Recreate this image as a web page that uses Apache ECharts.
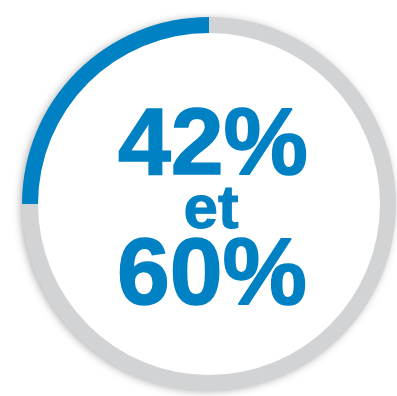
<!DOCTYPE html>
<html>
<head>
<meta charset="utf-8">
<script src="https://cdn.jsdelivr.net/npm/echarts@6/dist/echarts.min.js"></script>
<style>
  html, body { margin: 0; padding: 0; background: #fff; }
  #chart { width: 397px; height: 396px; }
</style>
</head>
<body>
<div id="chart"></div>
<script>
// share shown in blue vs. the rest of the ring
const ringNames = ['part', 'reste'];
const ringValues = [25, 75];
const ringColors = ['#0081C4', '#D1D3D4'];
// centre text, one line each
const centerLines = ['42%', 'et', '60%'];

const chart = echarts.init(document.getElementById('chart'));

const blue = '#0081C4';
const textFont = '"Liberation Sans", Arial, sans-serif';

chart.setOption({
  animation: false,
  series: [
    {
      // white disc underneath, only there to cast the soft outer shadow
      type: 'pie',
      silent: true,
      z: 1,
      center: [209, 204],
      radius: [0, 186],
      label: { show: false },
      data: [{ value: 1, itemStyle: { color: '#fff' } }],
      itemStyle: {
        shadowBlur: 8,
        shadowColor: 'rgba(0,0,0,0.35)',
        shadowOffsetX: -2,
        shadowOffsetY: 1
      }
    },
    {
      type: 'pie',
      silent: true,
      z: 2,
      center: [209, 204],
      radius: [171, 187],
      startAngle: 90,
      clockwise: false,
      label: { show: false },
      labelLine: { show: false },
      data: ringNames.map((n, i) => ({
        name: n,
        value: ringValues[i],
        itemStyle: { color: ringColors[i] }
      }))
    }
  ],
  graphic: [
    {
      type: 'text', x: 213, y: 148, z: 10,
      style: { text: centerLines[0], fill: blue, font: 'bold 95px ' + textFont, align: 'center', verticalAlign: 'middle', stroke: blue, lineWidth: 1.5 }
    },
    {
      type: 'text', x: 211, y: 211, z: 10,
      style: { text: centerLines[1], fill: blue, font: 'bold 62px ' + textFont, align: 'center', verticalAlign: 'middle', stroke: blue, lineWidth: 1 }
    },
    {
      type: 'text', x: 212, y: 278, z: 10,
      style: { text: centerLines[2], fill: blue, font: 'bold 95px ' + textFont, align: 'center', verticalAlign: 'middle', stroke: blue, lineWidth: 1.5 }
    }
  ]
});
</script>
</body>
</html>
